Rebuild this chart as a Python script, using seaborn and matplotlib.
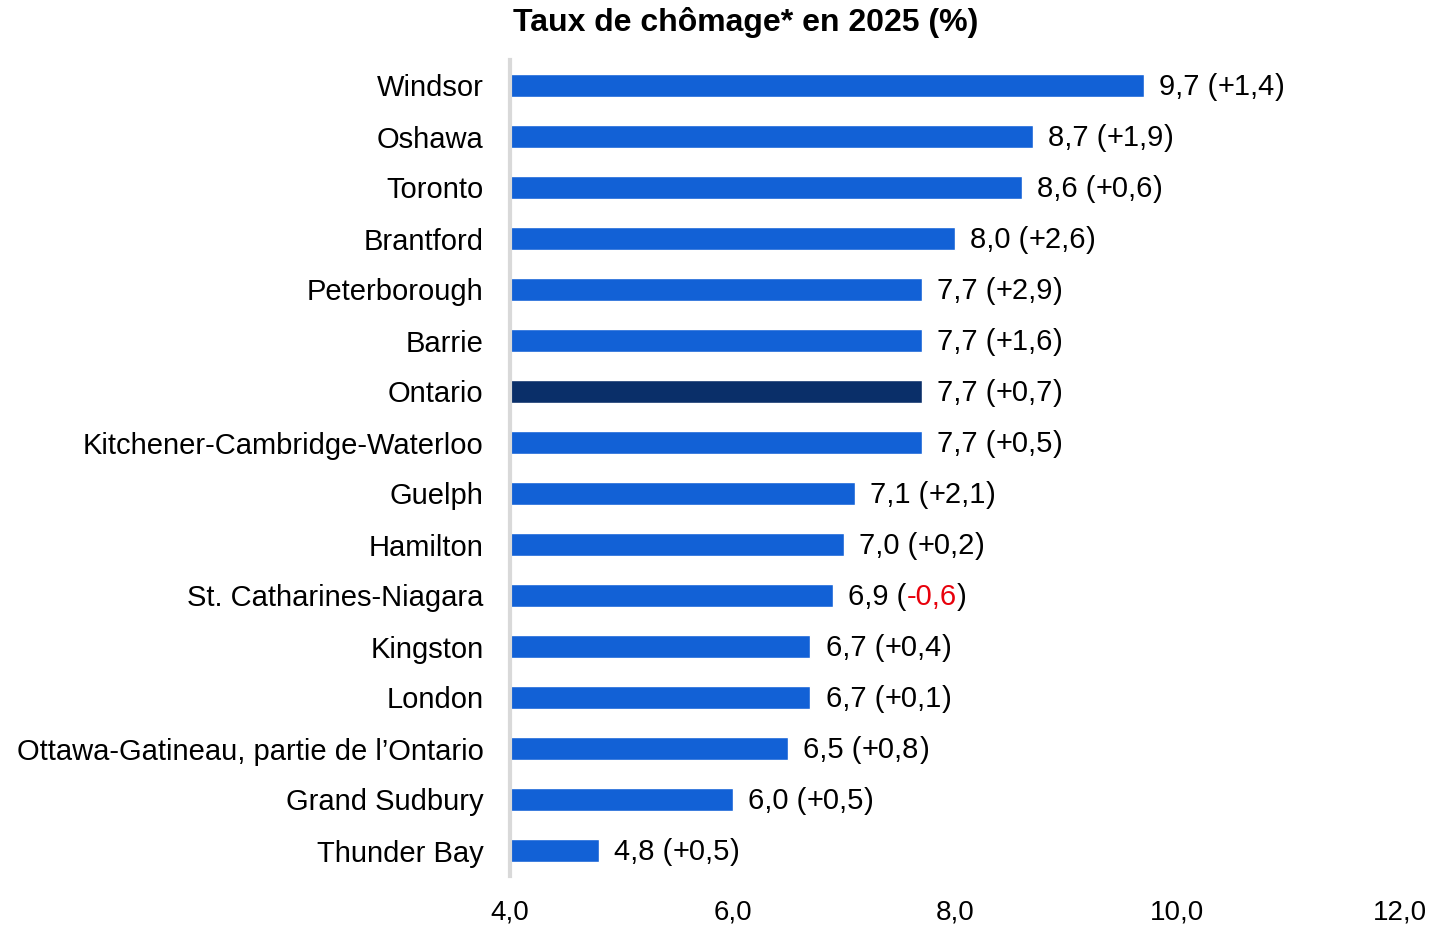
import matplotlib
matplotlib.use("Agg")
import matplotlib.pyplot as plt
import seaborn as sns
import pandas as pd

regions = ["Windsor", "Oshawa", "Toronto", "Brantford", "Peterborough", "Barrie",
           "Ontario", "Kitchener-Cambridge-Waterloo", "Guelph", "Hamilton",
           "St. Catharines-Niagara", "Kingston", "London",
           "Ottawa-Gatineau, partie de l\u2019Ontario", "Grand Sudbury", "Thunder Bay"]
rates = [9.7, 8.7, 8.6, 8.0, 7.7, 7.7, 7.7, 7.7, 7.1, 7.0, 6.9, 6.7, 6.7, 6.5, 6.0, 4.8]
changes = [1.4, 1.9, 0.6, 2.6, 2.9, 1.6, 0.7, 0.5, 2.1, 0.2, -0.6, 0.4, 0.1, 0.8, 0.5, 0.5]
x_ticks = [4, 6, 8, 10, 12]
title = "Taux de chômage* en 2025 (%)"

BLUE = "#1261D6"
NAVY = "#0A2F69"
FS = 21

def fr(v, sign=False):
    s = f"{v:+.1f}" if sign else f"{v:.1f}"
    return s.replace(".", ",")

sns.set_theme(style="white")
plt.rcParams["font.family"] = ["Liberation Sans", "DejaVu Sans"]
plt.rcParams["text.color"] = "black"
plt.rcParams["xtick.color"] = "black"
plt.rcParams["ytick.color"] = "black"

df = pd.DataFrame({"region": regions, "rate": rates})
palette = {r: (NAVY if r == "Ontario" else BLUE) for r in regions}

fig = plt.figure(figsize=(14.55, 9.26), dpi=100)
ax = fig.add_axes([510/1455, 1 - 876/926, (1400-510)/1455, (876-60)/926])

sns.barplot(data=df, y="region", x="rate", hue="region", palette=palette,
            orient="h", width=0.45, dodge=False, legend=False, ax=ax,
            saturation=1)

ax.set_xlim(4, 12)
ax.set_ylim(15.5, -0.5)
ax.set_xticks(x_ticks)
ax.set_xticklabels([fr(t) for t in x_ticks], fontsize=FS - 1)
ax.tick_params(axis="x", length=0, pad=17)
ax.tick_params(axis="y", length=0, pad=19, labelsize=FS)
ax.set_xlabel("")
ax.set_ylabel("")
for s in ["top", "right", "bottom"]:
    ax.spines[s].set_visible(False)
ax.spines["left"].set_color("#D9D9D9")
ax.spines["left"].set_linewidth(3)
ax.spines["left"].set_zorder(5)

for i, (r, c) in enumerate(zip(rates, changes)):
    t1 = ax.annotate(fr(r) + " (", xy=(r, i), xytext=(11, -1), textcoords="offset points",
                     ha="left", va="center", fontsize=FS, color="black")
    t2 = ax.annotate(fr(c, sign=True), xy=(1, 0), xycoords=t1, ha="left", va="bottom",
                     fontsize=FS, color=("#E8000B" if c < 0 else "black"))
    ax.annotate(")", xy=(1, 0), xycoords=t2, ha="left", va="bottom",
                fontsize=FS, color="black")

fig.text(746/1455, 1 - 22/926, title, ha="center", va="center",
         fontsize=23, fontweight="bold")

fig.savefig("out.png", dpi=100)
